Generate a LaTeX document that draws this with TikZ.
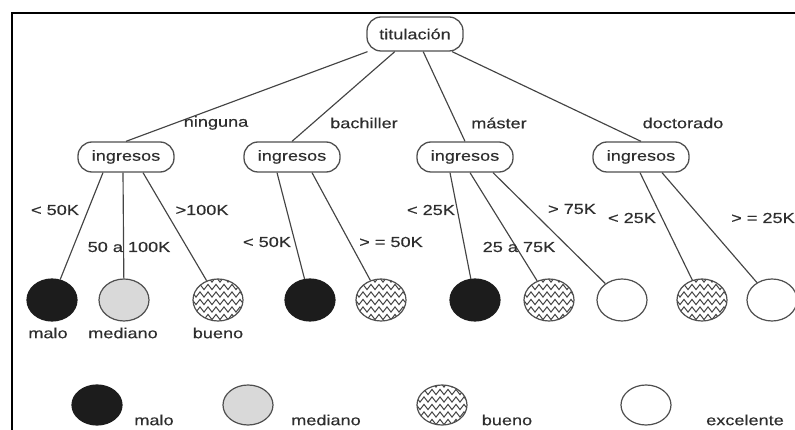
\documentclass[tikz,border=0pt]{standalone}
\usepackage{fontspec}
\setmainfont{Liberation Sans}[FakeStretch=1.25, FakeBold=0.35]
\usetikzlibrary{shapes.geometric,decorations.pathmorphing}

\definecolor{ink}{HTML}{2E2E2E}
\definecolor{wire}{HTML}{444444}
\definecolor{outline}{HTML}{4F4F4F}
\definecolor{dark}{HTML}{1C1C1C}
\definecolor{light}{HTML}{D9D9D9}

\tikzset{
  every node/.style={text=ink, font=\fontsize{14.5}{16}\selectfont},
  attr/.style={draw=outline, line width=1.3pt, rounded corners=14pt,
    minimum width=96pt, minimum height=30pt, inner sep=0pt},
  leaf/.style={ellipse, draw=outline, line width=1.2pt, inner sep=0pt,
    minimum width=50pt, minimum height=42pt},
  key/.style={leaf, minimum height=40pt},
  bad/.style={fill=dark, draw=dark},
  mid/.style={fill=light},
  good/.style={path picture={
    \begin{scope}[shift={(path picture bounding box.center)}, rotate=20]
      \foreach \k in {-28,-20.5,...,28}
        \draw[wire, line width=1pt, decorate,
              decoration={zigzag, segment length=8pt, amplitude=2.6pt}]
          (-36,\k) -- (36,\k);
    \end{scope}}},
  top/.style={fill=white},
  branch/.style={wire, line width=1.15pt},
  lbl/.style={inner sep=0pt, anchor=center}
}

\begin{document}
\begin{tikzpicture}[x=1pt, y=-1pt]
\useasboundingbox (0,0) rectangle (795,430);

% frame edges
\draw[black, line width=1.4pt] (795,13) -- (12,13) -- (12,430);

% root and attribute nodes
\node[attr, minimum height=34pt] (t) at (415,34) {titulación};
\node[attr] (i1) at (126,157) {ingresos};
\node[attr] (i2) at (292,157) {ingresos};
\node[attr] (i3) at (465,157) {ingresos};
\node[attr] (i4) at (641,157) {ingresos};

% leaves
\node[leaf, bad]  (l1)  at (52,300)  {};
\node[leaf, mid]  (l2)  at (124,300) {};
\node[leaf, good] (l3)  at (218,300) {};
\node[leaf, bad]  (l4)  at (310,300) {};
\node[leaf, good] (l5)  at (381,300) {};
\node[leaf, bad]  (l6)  at (475,300) {};
\node[leaf, good] (l7)  at (549,300) {};
\node[leaf, top]  (l8)  at (622,300) {};
\node[leaf, good] (l9)  at (702,300) {};
\node[leaf, top]  (l10) at (772,300) {};

% first level branches
\draw[branch] (t) -- (i1.north);
\draw[branch] (t) -- (i2.north);
\draw[branch] (t) -- (i3.north);
\draw[branch] (t) -- (i4.north);

% second level branches
\draw[branch] ([xshift=-23pt]i1.south) -- (l1);
\draw[branch] ([xshift=-3pt]i1.south) -- (l2);
\draw[branch] ([xshift=17pt]i1.south) -- (l3);
\draw[branch] ([xshift=-15pt]i2.south) -- (l4);
\draw[branch] ([xshift=20pt]i2.south) -- (l5);
\draw[branch] ([xshift=-15pt]i3.south) -- (l6);
\draw[branch] ([xshift=5pt]i3.south) -- (l7);
\draw[branch] ([xshift=28pt]i3.south) -- (l8);
\draw[branch] ([xshift=-1pt]i4.south) -- (l9);
\draw[branch] ([xshift=21pt]i4.south) -- (l10);

% branch labels
\node[lbl] (e1) at (216,123) {ninguna};
\node[lbl] (e2) at (364,123) {bachiller};
\node[lbl] (e3) at (499,123) {máster};
\node[lbl] (e4) at (683,123) {doctorado};

\node[lbl] (f1)  at (55,210)  {< 50K};
\node[lbl] (f2)  at (129,247) {50 a 100K};
\node[lbl] (f3)  at (202,210) {>100K};
\node[lbl] (f4)  at (267,242) {< 50K};
\node[lbl] (f5)  at (391,242) {> = 50K};
\node[lbl] (f6)  at (431,210) {< 25K};
\node[lbl] (f7)  at (519,247) {25 a 75K};
\node[lbl] (f8)  at (572,209) {> 75K};
\node[lbl] (f9)  at (632,218) {< 25K};
\node[lbl] (f10) at (763,218) {> = 25K};

% leaf captions
\node[lbl] (c1) at (48,333)  {malo};
\node[lbl] (c2) at (123,333) {mediano};
\node[lbl] (c3) at (218,333) {bueno};

% legend
\node[key, bad]  (k1) at (97,405)  {};
\node[key, mid]  (k2) at (248,405) {};
\node[key, good] (k3) at (442,405) {};
\node[key, top]  (k4) at (646,405) {};
\node[lbl] (m1) at (154,420) {malo};
\node[lbl] (m2) at (326,420) {mediano};
\node[lbl] (m3) at (507,420) {bueno};
\node[lbl] (m4) at (745,420) {excelente};
\end{tikzpicture}
\end{document}
